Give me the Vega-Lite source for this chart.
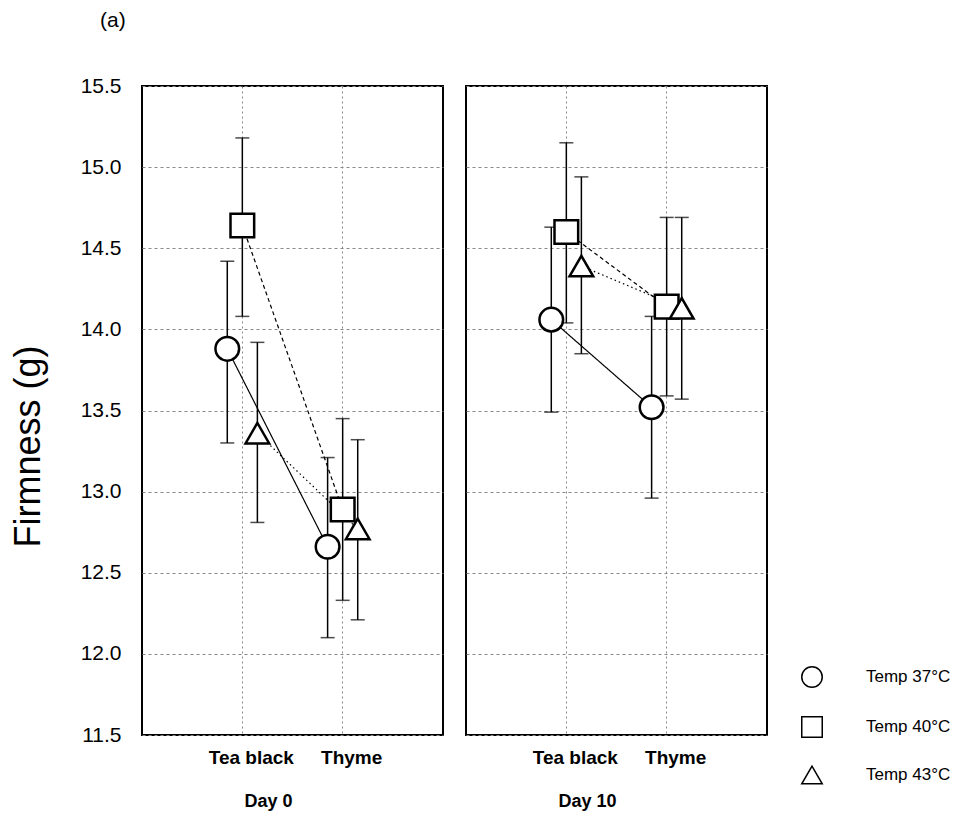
{
  "$schema": "https://vega.github.io/schema/vega-lite/v6.json",
  "background": "white",
  "padding": {"left": 10, "top": 10, "right": 0, "bottom": 0},
  "title": {"text": "(a)", "anchor": "start", "frame": "bounds", "fontSize": 21, "font": "Liberation Sans", "fontWeight": "normal", "color": "black", "dx": 90, "offset": 44},
  "data": {"values": [
    {"day": "Day 0", "treatment": "Tea black", "temp": "Temp 37°C", "mean": 13.88, "lo": 13.30, "hi": 14.42},
    {"day": "Day 0", "treatment": "Tea black", "temp": "Temp 40°C", "mean": 14.64, "lo": 14.08, "hi": 15.18},
    {"day": "Day 0", "treatment": "Tea black", "temp": "Temp 43°C", "mean": 13.36, "lo": 12.81, "hi": 13.92},
    {"day": "Day 0", "treatment": "Thyme", "temp": "Temp 37°C", "mean": 12.66, "lo": 12.10, "hi": 13.21},
    {"day": "Day 0", "treatment": "Thyme", "temp": "Temp 40°C", "mean": 12.89, "lo": 12.33, "hi": 13.45},
    {"day": "Day 0", "treatment": "Thyme", "temp": "Temp 43°C", "mean": 12.77, "lo": 12.21, "hi": 13.32},
    {"day": "Day 10", "treatment": "Tea black", "temp": "Temp 37°C", "mean": 14.06, "lo": 13.49, "hi": 14.63},
    {"day": "Day 10", "treatment": "Tea black", "temp": "Temp 40°C", "mean": 14.60, "lo": 14.04, "hi": 15.15},
    {"day": "Day 10", "treatment": "Tea black", "temp": "Temp 43°C", "mean": 14.39, "lo": 13.85, "hi": 14.94},
    {"day": "Day 10", "treatment": "Thyme", "temp": "Temp 37°C", "mean": 13.52, "lo": 12.96, "hi": 14.08},
    {"day": "Day 10", "treatment": "Thyme", "temp": "Temp 40°C", "mean": 14.14, "lo": 13.59, "hi": 14.69},
    {"day": "Day 10", "treatment": "Thyme", "temp": "Temp 43°C", "mean": 14.13, "lo": 13.57, "hi": 14.69}
  ]},
  "facet": {
    "column": {
      "field": "day", "type": "nominal", "sort": ["Day 0", "Day 10"],
      "header": {"title": null, "labelOrient": "bottom", "labelFont": "Liberation Sans", "labelFontWeight": "bold", "labelFontSize": 18, "labelPadding": 26, "labelAlign": "right", "labelColor": "black"}
    }
  },
  "spacing": 21,
  "spec": {
    "width": 301,
    "height": 649,
    "encoding": {
      "x": {
        "field": "treatment", "type": "nominal", "sort": ["Tea black", "Thyme"],
        "scale": {"paddingInner": 0.55, "paddingOuter": 0.775},
        "axis": {"title": null, "labelAngle": 0, "labelFont": "Liberation Sans", "labelFontWeight": "bold", "labelFontSize": 19, "labelColor": "black", "labelPadding": 12, "labelOffset": 9, "ticks": false, "domain": false, "grid": true, "gridDash": [2, 3], "gridColor": "#888", "gridWidth": 1}
      },
      "xOffset": {"field": "temp", "type": "nominal", "sort": ["Temp 37°C", "Temp 40°C", "Temp 43°C"], "scale": {"paddingInner": 0, "paddingOuter": 0}}
    },
    "layer": [
      {
        "mark": {"type": "rule", "color": "black", "strokeWidth": 1.5},
        "encoding": {
          "y": {"field": "lo", "type": "quantitative"},
          "y2": {"field": "hi"}
        }
      },
      {
        "mark": {"type": "tick", "orient": "horizontal", "size": 14, "thickness": 1.5, "color": "black"},
        "encoding": {"y": {"field": "hi", "type": "quantitative"}}
      },
      {
        "mark": {"type": "tick", "orient": "horizontal", "size": 14, "thickness": 1.5, "color": "black"},
        "encoding": {"y": {"field": "lo", "type": "quantitative"}}
      },
      {
        "mark": {"type": "line", "color": "black", "strokeWidth": 1.2},
        "encoding": {
          "y": {"field": "mean", "type": "quantitative"},
          "detail": {"field": "temp"},
          "strokeDash": {"field": "temp", "type": "nominal", "sort": ["Temp 37°C", "Temp 40°C", "Temp 43°C"], "scale": {"range": [[1, 0], [4, 3], [1.5, 3]]}, "legend": null}
        }
      },
      {
        "mark": {"type": "point", "filled": true, "fill": "white", "stroke": "black", "strokeWidth": 2.5, "opacity": 1, "size": 560},
        "encoding": {
          "y": {
            "field": "mean", "type": "quantitative",
            "scale": {"domain": [11.5, 15.5], "nice": false, "zero": false},
            "axis": {"title": "Firmness (g)", "titleFont": "Liberation Sans", "titleFontSize": 36, "titleFontWeight": "normal", "titleColor": "black", "titleX": -113, "titleY": 360, "titleAngle": -90, "titleAlign": "center", "titleBaseline": "middle", "values": [11.5, 12, 12.5, 13, 13.5, 14, 14.5, 15, 15.5], "format": ".1f", "labelFont": "Liberation Sans", "labelFontSize": 21, "labelColor": "black", "labelPadding": 20, "ticks": false, "domain": false, "grid": true, "gridDash": [3, 3], "gridColor": "#888", "gridWidth": 1}
          },
          "shape": {"field": "temp", "type": "nominal", "sort": ["Temp 37°C", "Temp 40°C", "Temp 43°C"], "scale": {"range": ["circle", "square", "triangle-up"]},
            "legend": {"title": null, "orient": "none", "legendX": 659, "legendY": 580, "labelFont": "Liberation Sans", "labelFontSize": 17, "labelColor": "black", "symbolSize": 420, "rowPadding": 22, "labelOffset": 43,
              "encode": {"symbols": {"update": {"fill": {"value": "white"}, "stroke": {"value": "black"}, "strokeWidth": {"value": 2}, "opacity": {"value": 1}}}}}}
        }
      }
    ]
  },
  "config": {
    "view": {"stroke": "black", "strokeWidth": 2},
    "font": "Liberation Sans"
  }
}
